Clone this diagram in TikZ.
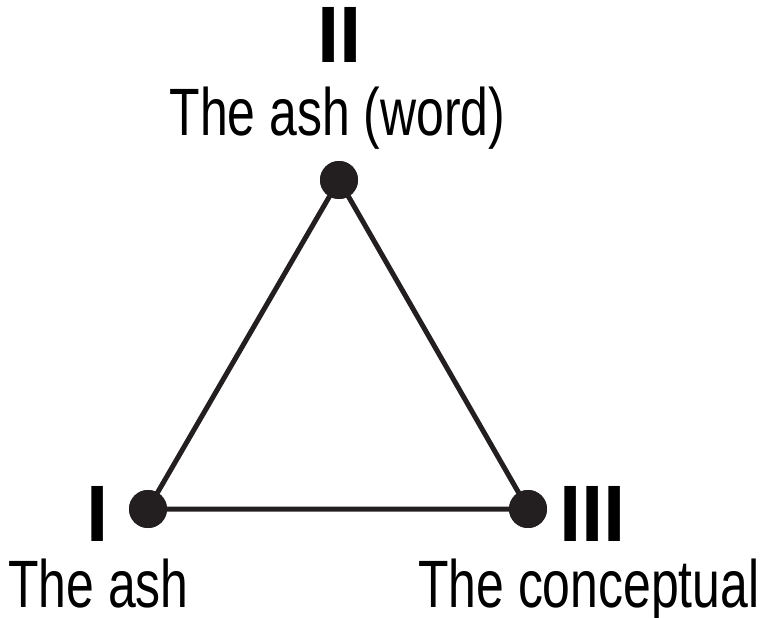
\documentclass[tikz,border=0pt]{standalone}
\usepackage{fontspec}
\setmainfont[FakeStretch=0.745]{Liberation Sans}
\newfontfamily\numfont{Liberation Sans}[BoldFont={Liberation Sans Bold}]
\definecolor{ink}{HTML}{231F20}
\begin{document}
\begin{tikzpicture}[x=1pt,y=-1pt,
  dot/.style={circle,fill=ink,draw=none,minimum size=38pt,inner sep=0pt},
  edge/.style={draw=ink,line width=5pt},
  label/.style={font=\fontsize{67}{67}\selectfont,inner sep=0pt,text=black},
  numeral/.style={font=\numfont\bfseries\fontsize{80}{80}\selectfont,inner sep=0pt,text=black,anchor=base}]
\useasboundingbox (0,0) rectangle (771,618);
\node[dot] (top) at (339,180) {};
\node[dot] (left) at (148,509) {};
\node[dot] (right) at (528,509) {};
\draw[edge] (top.center) -- (left.center) -- (right.center) -- cycle;
\node[dot] at (top.center) {};
\node[dot] at (left.center) {};
\node[dot] at (right.center) {};
\node[numeral] (nII) at (339.5,63) {II};
\node[numeral] (nI) at (97.5,541) {I};
\node[numeral] (nIII) at (592.5,541) {III};
\node[label,anchor=base] (lword) at (337.5,135) {The ash (word)};
\node[label,anchor=base west] (lash) at (8,607) {The ash};
\node[label,anchor=base west] (lconc) at (418,607) {The conceptual};
\end{tikzpicture}
\end{document}
